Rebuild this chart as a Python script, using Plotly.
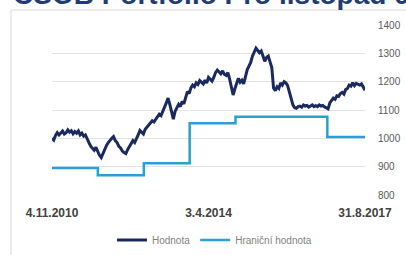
import pandas as pd
import plotly.graph_objects as go

# Hodnota (portfolio value), bi-weekly from 4.11.2010 to 31.8.2017
hodnota = [
    1000, 994, 1010, 1020, 1012, 1018, 1026, 1015, 1020, 1030,
    1022, 1027, 1016, 1024, 1018, 1026, 1012, 1018, 1008, 1012,
    995, 985, 972, 965, 958, 968, 950, 940, 932, 948,
    962, 975, 985, 995, 1000, 1006, 992, 985, 972, 966,
    955, 950, 946, 960, 972, 980, 992, 985, 1002, 1012,
    1028, 1020, 1015, 1032, 1040, 1048, 1055, 1062, 1058, 1068,
    1075, 1085, 1080, 1098, 1110, 1125, 1142, 1120, 1095, 1068,
    1095, 1108, 1120, 1112, 1130, 1122, 1148, 1165, 1158, 1178,
    1188, 1182, 1196, 1190, 1204, 1198, 1192, 1205, 1195, 1215,
    1208, 1202, 1215, 1232, 1241, 1236, 1228, 1238, 1226, 1222,
    1232, 1210, 1180, 1153, 1175, 1198, 1212, 1198, 1205, 1192,
    1220, 1242, 1255, 1268, 1290, 1305, 1318, 1310, 1302, 1308,
    1292, 1272, 1285, 1290, 1270, 1250, 1178, 1168, 1182, 1176,
    1195, 1188, 1200, 1196, 1186, 1160, 1135, 1118, 1108, 1106,
    1112, 1114, 1110, 1118, 1114, 1116, 1110, 1113, 1118, 1112,
    1115, 1112, 1118, 1114, 1116, 1111, 1108, 1104, 1125, 1132,
    1142, 1138, 1150, 1148, 1158, 1162, 1156, 1172, 1176, 1188,
    1184, 1196, 1186, 1194, 1190, 1188, 1192, 1178, 1170,
]
dates = pd.date_range("2010-11-04", periods=len(hodnota), freq="14D")

# Hraniční hodnota (floor value), step changes
hranice_dates = ["2010-11-04", "2011-11-04", "2012-11-04", "2013-11-04",
                 "2014-11-04", "2016-11-04", "2017-08-31"]
hranice = [895, 870, 912, 1053, 1076, 1005, 1005]

tick_dates = ["2010-11-04", "2014-04-03", "2017-08-31"]
tick_text = ["4.11.2010", "3.4.2014", "31.8.2017"]

fig = go.Figure()
fig.add_trace(go.Scatter(x=dates, y=hodnota, mode="lines", name="Hodnota",
                         line=dict(color="#1B2A5E", width=3)))
fig.add_trace(go.Scatter(x=hranice_dates, y=hranice, mode="lines",
                         name="Hraniční hodnota", line_shape="hv",
                         line=dict(color="#2A9FD4", width=2.5)))

fig.update_layout(
    width=406, height=255,
    margin=dict(l=52, r=41, t=25, b=60, autoexpand=False),
    paper_bgcolor="white", plot_bgcolor="white",
    font=dict(family="Liberation Sans", color="#595959"),
    showlegend=True,
    legend=dict(orientation="h", x=0.519, xanchor="center", y=-0.179,
                yanchor="top", font=dict(size=10, color="#7F7F7F"),
                itemwidth=30, tracegroupgap=0),
    xaxis=dict(range=["2010-11-04", "2017-08-31"], tickvals=tick_dates,
               ticktext=tick_text, showgrid=False, zeroline=False,
               showline=False, ticks="", automargin=False,
               tickfont=dict(size=12, color="#404040", family="Liberation Sans"),
               ticklabelstandoff=9),
    yaxis=dict(range=[800, 1400], dtick=100, side="right",
               showgrid=True, gridcolor="#E3E3E3", gridwidth=1,
               zeroline=False, showline=False, automargin=False,
               tickfont=dict(size=10, color="#595959"),
               ticklabelstandoff=12),
)
fig.update_xaxes(tickfont_weight="bold")

# chart frame lines
fig.add_shape(type="line", xref="paper", yref="paper", x0=-0.131, x1=1.3,
              y0=1.088, y1=1.088, line=dict(color="#D9D9D9", width=1))
fig.add_shape(type="line", xref="paper", yref="paper", x0=-0.131, x1=-0.131,
              y0=1.088, y1=-0.5, line=dict(color="#D9D9D9", width=1))

# partially visible heading
fig.add_annotation(text="ČSOB Portfolio Pro listopad 00", xref="paper",
                   yref="paper", x=-0.13, xanchor="left", y=1.078,
                   yanchor="bottom", showarrow=False,
                   font=dict(size=28, color="#1F3C74", family="Liberation Sans",
                             weight="bold"))

fig.write_html("out.html", config={"displayModeBar": False},
               post_script="document.body.style.margin='0';document.body.style.overflow='hidden';")
